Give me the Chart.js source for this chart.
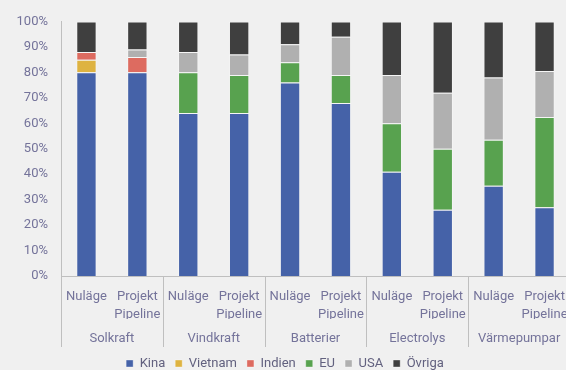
<!DOCTYPE html>
<html>
<head>
<meta charset="utf-8">
<script src="https://cdn.jsdelivr.net/npm/chart.js@4"></script>
<style>
  html, body { margin: 0; padding: 0; background: #f0f0f0; overflow: hidden; }
  #wrap { width: 590px; height: 380px; }
</style>
</head>
<body>
<div id="wrap"><canvas id="chart"></canvas></div>
<script>
// categories (two levels)
var groups = ["Solkraft", "Vindkraft", "Batterier", "Electrolys", "Värmepumpar"];
var phases = ["Nuläge", ["Projekt", "Pipeline"]];
var labels = [];
groups.forEach(function(g){ phases.forEach(function(p){ labels.push(p) }) });

// shares in percent, one entry per bar
var kina    = [80, 80, 64, 64, 76, 68, 41, 26, 35.5, 27];
var vietnam = [5, null, null, null, null, null, null, null, null, null];
var indien  = [3, 6, null, null, null, null, null, null, null, null];
var eu      = [null, null, 16, 15, 8, 11, 19, 24, 18, 35.5];
var usa     = [null, 3, 8, 8, 7, 15, 19, 22, 24.5, 18];
var ovriga  = [12, 11, 12, 13, 9, 6, 21, 28, 22, 19.5];

var textColor = '#74739a';
var lineColor = '#bfbfbf';
Chart.defaults.font.family = 'Roboto';
Chart.defaults.font.size = 13;
Chart.defaults.font.lineHeight = 1.3;
Chart.defaults.color = textColor;

function ds(label, data, color){
  return {
    label: label, data: data, backgroundColor: color,
    borderColor: 'rgba(255,255,255,0.35)', borderWidth: 1,
    barPercentage: 0.4, categoryPercentage: 1
  };
}

// vertical separators between the groups, below the x axis
var groupLines = {
  id: 'groupLines',
  afterDraw: function(chart){
    var x = chart.scales.x, x2 = chart.scales.x2, c = chart.ctx;
    var half = (x.getPixelForValue(1) - x.getPixelForValue(0)) / 2;
    c.save();
    c.strokeStyle = lineColor;
    c.lineWidth = 1;
    for (var i = 0; i <= labels.length; i += phases.length) {
      var px = Math.round(x.getPixelForValue(i) - half) + 0.5;
      c.beginPath();
      c.moveTo(px, chart.chartArea.bottom);
      c.lineTo(px, x2.bottom);
      c.stroke();
    }
    c.restore();
  }
};

new Chart(document.getElementById('chart'), {
  type: 'bar',
  data: {
    labels: labels,
    datasets: [
      ds('Kina', kina, '#4562a8'),
      ds('Vietnam', vietnam, '#deb341'),
      ds('Indien', indien, '#dd6b60'),
      ds('EU', eu, '#58a24f'),
      ds('USA', usa, '#b0b0b0'),
      ds('Övriga', ovriga, '#3f3f3f')
    ]
  },
  plugins: [groupLines],
  options: {
    responsive: true,
    maintainAspectRatio: false,
    animation: false,
    layout: { padding: { top: 21, right: 20, left: 0, bottom: 0 } },
    plugins: {
      tooltip: { enabled: false },
      legend: {
        position: 'bottom',
        labels: { boxWidth: 7, boxHeight: 7, padding: 10, color: '#62617f' }
      }
    },
    scales: {
      x: {
        stacked: true,
        grid: { display: false, drawTicks: false },
        border: { display: true, color: lineColor },
        ticks: { padding: 12, maxRotation: 0, autoSkip: false, font: { lineHeight: 1.35 } },
        afterFit: function(s){ s.height = 43 }
      },
      x2: {
        type: 'category',
        position: 'bottom',
        labels: groups,
        grid: { display: false, drawTicks: false },
        border: { display: false },
        ticks: { padding: 11 },
        afterFit: function(s){ s.height = 28 }
      },
      y: {
        stacked: true,
        min: 0, max: 100,
        grid: { display: false, drawTicks: false },
        border: { display: true, color: lineColor },
        ticks: { stepSize: 10, padding: 13, callback: function(v){ return v + '%' } },
        afterFit: function(s){ s.width = 61 }
      }
    }
  }
});
</script>
</body>
</html>
